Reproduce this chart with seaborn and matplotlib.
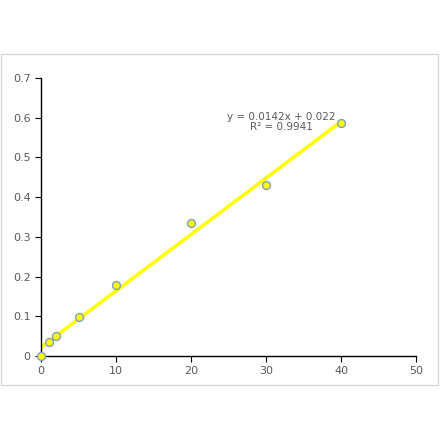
import matplotlib
matplotlib.use("Agg")
import matplotlib.pyplot as plt
import seaborn as sns
import numpy as np
import pandas as pd
from matplotlib.patches import Rectangle

x = [0, 1, 2, 5, 10, 20, 30, 40]
y = [0.0, 0.035, 0.05, 0.097, 0.18, 0.335, 0.43, 0.587]
slope, intercept = 0.0142, 0.022
eq_text = "y = 0.0142x + 0.022\nR² = 0.9941"

sns.set_style("white")
fig = plt.figure(figsize=(4.4, 4.41), dpi=100)
fig.patches.append(Rectangle((1/440, 1-385/441), 437/440, 331/441, transform=fig.transFigure,
                             fill=False, edgecolor="#d9d9d9", linewidth=1))
ax = fig.add_axes([41/440, 1-356/441, 375/440, 278/441])
df = pd.DataFrame({"x": x, "y": y})
xl = np.array([0, 40])
ax.plot(xl, slope*xl+intercept, color="#ffff00", lw=2.5, zorder=2)
sns.scatterplot(data=df, x="x", y="y", ax=ax, color="#ffff00", edgecolor="#7f9fbf",
                linewidth=1, s=32, zorder=3, clip_on=False)
ax.set_xlim(0, 50); ax.set_ylim(0, 0.7)
ax.set_xticks(range(0, 51, 10))
ax.set_yticks(np.arange(0, 0.71, 0.1))
ax.set_yticklabels(["0"] + [f"{v:.1f}" for v in np.arange(0.1, 0.71, 0.1)])
ax.set_xlabel(""); ax.set_ylabel("")
for s in ["top", "right"]:
    ax.spines[s].set_visible(False)
for s in ["left", "bottom"]:
    ax.spines[s].set_color("#000000"); ax.spines[s].set_linewidth(1)
ax.tick_params(axis="both", length=4, direction="out", color="#000000",
               labelsize=8, labelcolor="#595959", left=True, bottom=True)
ax.text(32.0, 0.563, eq_text, ha="center", va="bottom", fontsize=7.5, color="#595959", linespacing=1.1)
fig.savefig("out.png", dpi=100)
